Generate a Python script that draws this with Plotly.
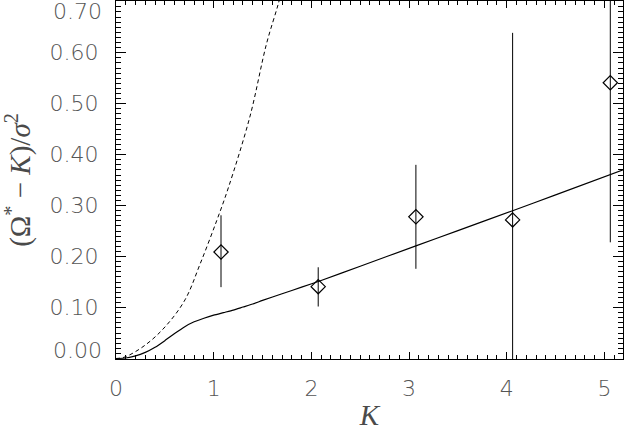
import plotly.graph_objects as go

# measured points with error bars
k_pts = [1.075, 2.07, 3.07, 4.06, 5.06]
w_pts = [0.209, 0.141, 0.278, 0.272, 0.541]
err_hi = [0.281, 0.179, 0.380, 0.639, 0.760]
err_lo = [0.140, 0.102, 0.176, -0.100, 0.228]

# solid model curve
k_solid = [0.0, 0.1, 0.2, 0.3, 0.4, 0.5, 0.6, 0.7, 0.8, 0.9, 1.0, 1.1, 1.2, 1.3, 1.4, 1.5,
           1.7, 1.9, 2.1, 2.5, 3.07, 3.5, 4.06, 4.5, 5.2]
w_solid = [0.0, 0.001, 0.005, 0.012, 0.022, 0.035, 0.049, 0.062, 0.072, 0.079, 0.085, 0.090,
           0.095, 0.101, 0.107, 0.114, 0.127, 0.140, 0.153, 0.181, 0.221, 0.251, 0.290, 0.321, 0.371]

# dashed model curve
k_dash = [0.0, 0.092, 0.297, 0.502, 0.706, 0.86, 1.03, 1.15, 1.37, 1.54, 1.66, 1.72]
w_dash = [0.0, 0.003, 0.026, 0.062, 0.115, 0.185, 0.270, 0.335, 0.474, 0.617, 0.695, 0.74]

# y tick labels; the two end labels are nudged inside the frame like the original
y_ticks = [0.0, 0.1, 0.2, 0.3, 0.4, 0.5, 0.6, 0.7]
y_labels = ["%.2f" % v for v in y_ticks]

font = dict(family="DejaVu Sans", size=22, color="#555555", weight=200)
title_font = dict(family="Liberation Serif", size=29, color="#4a4a4a")

fig = go.Figure()
fig.add_trace(go.Scatter(x=k_dash, y=w_dash, mode="lines", line_shape="spline",
                         line=dict(color="black", width=1, dash="4px,3px")))
fig.add_trace(go.Scatter(x=k_solid, y=w_solid, mode="lines", line_shape="spline",
                         line=dict(color="black", width=1.2, smoothing=0.6)))
fig.add_trace(go.Scatter(
    x=k_pts, y=w_pts, mode="markers",
    marker=dict(symbol="diamond-open", size=11, color="black", line=dict(width=1.2)),
    error_y=dict(type="data", symmetric=False,
                 array=[h - w for h, w in zip(err_hi, w_pts)],
                 arrayminus=[w - l for w, l in zip(w_pts, err_lo)],
                 width=0, thickness=1, color="black"),
))

axis_common = dict(showline=True, linecolor="black", linewidth=1, mirror="allticks",
                   ticks="inside", tickcolor="black", tickwidth=1, showgrid=False,
                   zeroline=False, tickfont=font, automargin=False)

fig.update_xaxes(range=[0, 5.19], dtick=1, ticklen=7, ticklabelstandoff=10,
                 minor=dict(dtick=0.1, ticklen=4, ticks="inside", tickcolor="black", showgrid=False),
                 title=dict(text="<i>K</i>", font=title_font, standoff=28),
                 **axis_common)
fig.update_yaxes(range=[-0.001, 0.7015], tickvals=y_ticks,
                 ticktext=[""] + y_labels[1:-1] + [""], ticklen=10, ticklabelstandoff=12,
                 minor=dict(dtick=0.01, ticklen=5, ticks="inside", tickcolor="black", showgrid=False),
                 title=dict(text="(Ω<sup>*</sup> − <i>K</i>)/<i>σ</i><sup>2</sup>",
                            font=title_font, standoff=14),
                 **axis_common)

for v, lab, shift in [(y_ticks[0], y_labels[0], 8), (y_ticks[-1], y_labels[-1], -10)]:
    fig.add_annotation(text=lab, xref="paper", yref="y", x=0, y=v, xanchor="right",
                       xshift=-12, yshift=shift, showarrow=False, font=font)

fig.update_layout(width=624, height=431, margin=dict(l=116, r=1, t=1, b=72),
                  plot_bgcolor="white", paper_bgcolor="white", showlegend=False)

# page body has a default 8px margin; drop it so the figure sits at the window corner
fig.write_html("out.html", config={"displayModeBar": False},
               post_script="document.body.style.margin='0';")
